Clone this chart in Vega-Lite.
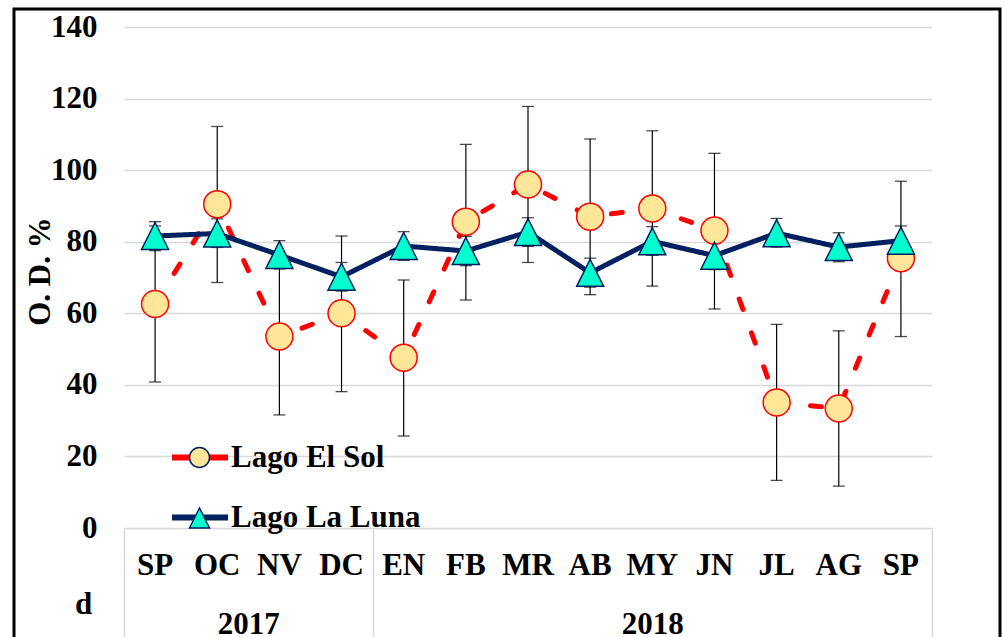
{
  "$schema": "https://vega.github.io/schema/vega-lite/v6.json",
  "width": 986,
  "height": 640,
  "autosize": "none",
  "padding": {"left": 14, "top": 9, "right": 5, "bottom": 0},
  "background": "white",
  "title": {"text": "d", "orient": "bottom", "anchor": "start", "frame": "group", "dx": 61, "dy": -68, "font": "Liberation Serif", "fontSize": 31, "fontWeight": "bold", "color": "black"},
  "layer": [
    {
      "data": {"values": [
        {"i": 0, "key": "SP17", "lake": "Lago El Sol", "serie": "Lago El Sol", "value": 62.6, "lo": 40.8, "hi": 84.4},
        {"i": 1, "key": "OC17", "lake": "Lago El Sol", "serie": "Lago El Sol", "value": 90.5, "lo": 68.6, "hi": 112.2},
        {"i": 2, "key": "NV17", "lake": "Lago El Sol", "serie": "Lago El Sol", "value": 53.5, "lo": 31.6, "hi": 75.4},
        {"i": 3, "key": "DC17", "lake": "Lago El Sol", "serie": "Lago El Sol", "value": 60.0, "lo": 38.1, "hi": 81.6},
        {"i": 4, "key": "EN18", "lake": "Lago El Sol", "serie": "Lago El Sol", "value": 47.6, "lo": 25.7, "hi": 69.3},
        {"i": 5, "key": "FB18", "lake": "Lago El Sol", "serie": "Lago El Sol", "value": 85.6, "lo": 63.7, "hi": 107.2},
        {"i": 6, "key": "MR18", "lake": "Lago El Sol", "serie": "Lago El Sol", "value": 96.0, "lo": 74.2, "hi": 117.8},
        {"i": 7, "key": "AB18", "lake": "Lago El Sol", "serie": "Lago El Sol", "value": 87.0, "lo": 65.2, "hi": 108.7},
        {"i": 8, "key": "MY18", "lake": "Lago El Sol", "serie": "Lago El Sol", "value": 89.3, "lo": 67.6, "hi": 111.0},
        {"i": 9, "key": "JN18", "lake": "Lago El Sol", "serie": "Lago El Sol", "value": 83.1, "lo": 61.2, "hi": 104.7},
        {"i": 10, "key": "JL18", "lake": "Lago El Sol", "serie": "Lago El Sol", "value": 35.1, "lo": 13.3, "hi": 56.9},
        {"i": 11, "key": "AG18", "lake": "Lago El Sol", "serie": "Lago El Sol", "value": 33.4, "lo": 11.7, "hi": 55.1},
        {"i": 12, "key": "SP18", "lake": "Lago El Sol", "serie": "Lago El Sol", "value": 75.4, "lo": 53.5, "hi": 96.9},
        {"i": 0, "key": "SP17", "lake": "Lago La Luna", "serie": "Lago La Luna", "value": 81.6, "lo": 77.5, "hi": 85.6},
        {"i": 1, "key": "OC17", "lake": "Lago La Luna", "serie": "Lago La Luna", "value": 82.3, "lo": 78.4, "hi": 86.4},
        {"i": 2, "key": "NV17", "lake": "Lago La Luna", "serie": "Lago La Luna", "value": 76.3, "lo": 72.4, "hi": 80.3},
        {"i": 3, "key": "DC17", "lake": "Lago La Luna", "serie": "Lago La Luna", "value": 70.2, "lo": 66.2, "hi": 74.2},
        {"i": 4, "key": "EN18", "lake": "Lago La Luna", "serie": "Lago La Luna", "value": 78.8, "lo": 74.8, "hi": 82.8},
        {"i": 5, "key": "FB18", "lake": "Lago La Luna", "serie": "Lago La Luna", "value": 77.4, "lo": 73.3, "hi": 81.5},
        {"i": 6, "key": "MR18", "lake": "Lago La Luna", "serie": "Lago La Luna", "value": 82.7, "lo": 78.7, "hi": 86.7},
        {"i": 7, "key": "AB18", "lake": "Lago La Luna", "serie": "Lago La Luna", "value": 71.3, "lo": 67.3, "hi": 75.4},
        {"i": 8, "key": "MY18", "lake": "Lago La Luna", "serie": "Lago La Luna", "value": 80.1, "lo": 76.2, "hi": 84.2},
        {"i": 9, "key": "JN18", "lake": "Lago La Luna", "serie": "Lago La Luna", "value": 76.1, "lo": 72.2, "hi": 80.1},
        {"i": 10, "key": "JL18", "lake": "Lago La Luna", "serie": "Lago La Luna", "value": 82.4, "lo": 78.5, "hi": 86.5},
        {"i": 11, "key": "AG18", "lake": "Lago La Luna", "serie": "Lago La Luna", "value": 78.5, "lo": 74.4, "hi": 82.5},
        {"i": 12, "key": "SP18", "lake": "Lago La Luna", "serie": "Lago La Luna", "value": 80.3, "lo": 76.3, "hi": 84.4}
      ]},
      "encoding": {
        "x": {
          "field": "key", "type": "ordinal",
          "scale": {"type": "band", "domain": ["SP17","OC17","NV17","DC17","EN18","FB18","MR18","AB18","MY18","JN18","JL18","AG18","SP18"], "range": [110, 918], "paddingInner": 0, "paddingOuter": 0},
          "axis": {"orient": "bottom", "offset": -121, "title": null, "labelExpr": "substring(datum.value, 0, 2)", "labelAngle": 0, "ticks": false, "domain": false, "grid": false, "labelPadding": 22, "labelFont": "Liberation Serif", "labelFontSize": 31, "labelFontWeight": "bold", "labelColor": "black"}
        },
        "y": {
          "type": "quantitative",
          "scale": {"domain": [0, 140], "range": [519, 18], "nice": false, "zero": true}
        }
      },
      "layer": [
        {
          "mark": {"type": "line", "strokeWidth": 5, "strokeCap": "round", "strokeJoin": "round"},
          "encoding": {
            "y": {"field": "value", "type": "quantitative",
              "axis": {"values": [0,20,40,60,80,100,120,140], "title": "O. D. %", "offset": -110, "grid": true, "gridColor": "#D9D9D9", "gridWidth": 1.5, "domain": false, "ticks": false, "labelPadding": 27, "labelFont": "Liberation Serif", "labelFontSize": 31, "labelFontWeight": "bold", "labelColor": "black", "titleFont": "Liberation Serif", "titleFontSize": 31, "titleFontWeight": "bold", "titleColor": "black", "titlePadding": -6, "titleY": 262}},
            "order": {"field": "i", "type": "quantitative"},
            "stroke": {"field": "lake", "type": "nominal",
              "scale": {"range": ["#FF0000", "#002060"]},
              "legend": {"orient": "none", "legendX": 155, "legendY": 417.5, "title": null, "symbolType": "stroke", "symbolStrokeWidth": 6, "symbolSize": 3136, "rowPadding": 14, "labelOffset": 0, "labelLimit": 400, "labelFont": "Liberation Serif", "labelFontSize": 31, "labelFontWeight": "bold", "labelColor": "black"}},
            "strokeDash": {"condition": {"test": "datum.lake == 'Lago El Sol'", "value": [11, 25]}, "value": [1, 0]}
          }
        },
        {
          "mark": {"type": "rule", "color": "black", "strokeWidth": 1.2},
          "encoding": {"y": {"field": "lo", "type": "quantitative"}, "y2": {"field": "hi"}}
        },
        {
          "mark": {"type": "tick", "color": "black", "thickness": 1.3, "size": 12},
          "encoding": {"y": {"field": "lo", "type": "quantitative"}}
        },
        {
          "mark": {"type": "tick", "color": "black", "thickness": 1.3, "size": 12},
          "encoding": {"y": {"field": "hi", "type": "quantitative"}}
        },
        {
          "mark": {"type": "point", "filled": true, "size": 729, "strokeWidth": 1.5, "opacity": 1},
          "encoding": {
            "y": {"field": "value", "type": "quantitative"},
            "shape": {"field": "serie", "type": "nominal",
              "scale": {"range": ["M1,0A1,1,0,1,1,-1,0A1,1,0,1,1,1,0Z", "M0,-1L1,1L-1,1Z"]},
              "legend": {"orient": "none", "legendX": 170, "legendY": 433, "title": null, "symbolSize": 400, "rowPadding": 28.5, "labelExpr": "''", "labelOpacity": 0, "labelFontSize": 31,
                "encode": {"symbols": {"update": {"stroke": {"signal": "datum.value == 'Lago El Sol' ? '#FF0000' : '#002060'"}, "strokeWidth": {"value": 1.5}}}}}},
            "fill": {"field": "serie", "type": "nominal", "scale": {"range": ["#FFE699", "#00FFCC"]}},
            "stroke": {"condition": {"test": "datum.lake == 'Lago El Sol'", "value": "#FF0000"}, "value": "#002060"}
          }
        }
      ]
    },
    {
      "data": {"values": [{"year": "2017", "mid": 2}, {"year": "2018", "mid": 8.5}]},
      "mark": {"type": "rule", "opacity": 0},
      "encoding": {
        "x": {"field": "mid", "type": "quantitative",
          "scale": {"domain": [0, 13], "range": [110, 918], "nice": false, "zero": false},
          "axis": {"orient": "bottom", "offset": -121, "title": null, "values": [0, 2, 4, 8.5, 13],
            "labelExpr": "datum.value == 2 ? '2017' : datum.value == 8.5 ? '2018' : ''",
            "grid": false, "domain": false, "ticks": true, "tickSize": 125, "tickColor": "#D9D9D9", "tickWidth": 1.5,
            "tickOpacity": {"condition": {"test": "datum.value == 2 || datum.value == 8.5", "value": 0}, "value": 1},
            "labelPadding": -44, "labelFlush": false, "labelOverlap": false, "labelBound": false,
            "labelFont": "Liberation Serif", "labelFontSize": 31, "labelFontWeight": "bold", "labelColor": "black"}
        }
      }
    }
  ],
  "resolve": {"scale": {"x": "independent"}, "axis": {"x": "independent"}},
  "config": {"view": {"stroke": "black", "strokeWidth": 3}}
}
